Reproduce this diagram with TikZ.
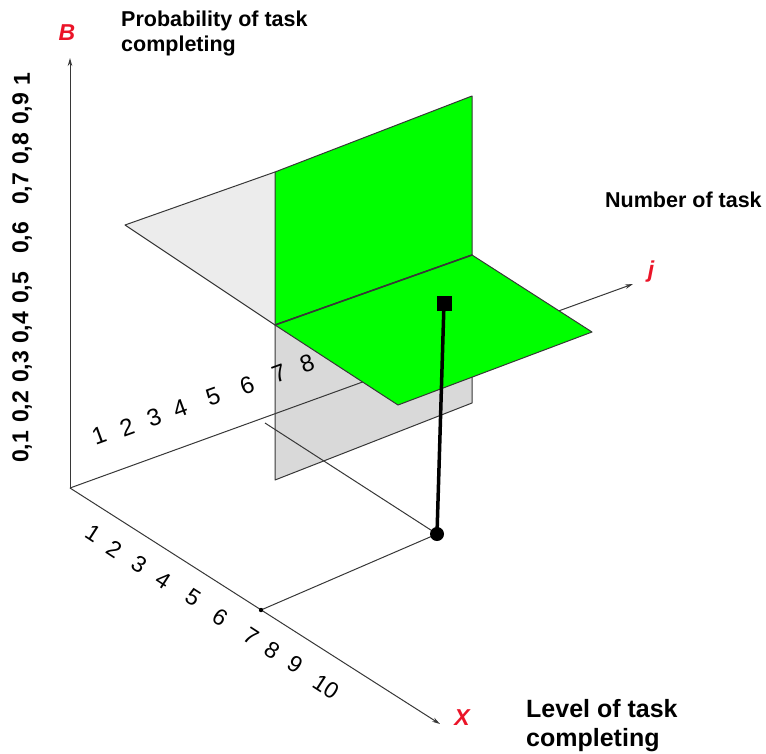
\documentclass[tikz,border=0pt]{standalone}
\usepackage{fontspec}
\setmainfont{Liberation Sans}
\usepackage{xcolor}
\definecolor{plgreen}{RGB}{0,255,0}
\definecolor{pllight}{RGB}{236,236,236}
\definecolor{plgray}{RGB}{217,217,217}
\definecolor{axred}{RGB}{235,20,40}
\definecolor{lngray}{RGB}{55,55,55}
\usetikzlibrary{arrows.meta, positioning}

\tikzset{
  axisline/.style={draw=lngray, line width=1pt, -{Stealth[length=8pt,width=4.5pt]}},
  guide/.style={draw=lngray, line width=1pt},
  plane/.style={draw=lngray, line width=1pt, line join=round},
  axname/.style={font=\fontsize{23}{26}\selectfont\bfseries\itshape, text=axred, inner sep=0pt},
  axtitle/.style={font=\fontsize{21.5}{25}\selectfont\bfseries, align=left, anchor=west, inner sep=0pt},
  jnum/.style={font=\fontsize{24}{26}\selectfont, rotate=20, inner sep=0pt},
  xnum/.style={font=\fontsize{23}{25}\selectfont, rotate=-33, inner sep=0pt},
  pval/.style={font=\fontsize{23}{26}\selectfont\bfseries, rotate=90, inner sep=0pt}
}

\begin{document}
\begin{tikzpicture}[x=1pt,y=-1pt]
  \useasboundingbox (0,0) rectangle (766,753);
  % axes
  \coordinate (O) at (70,488);
  \coordinate (Btip) at (70,58);
  \coordinate (jtip) at (633,284);
  \coordinate (Xtip) at (440,724);
  % corners of the planes
  \coordinate (gl) at (125,225);
  \coordinate (vtl) at (275,172);
  \coordinate (vtr) at (472,96);
  \coordinate (vml) at (275,325);
  \coordinate (vmr) at (472,255);
  \coordinate (vbl) at (275,480);
  \coordinate (vbr) at (472,403);
  \coordinate (hfr) at (592,332);
  \coordinate (hfl) at (398,405);
  % point and its projections
  \coordinate (pdot) at (437,534);
  \coordinate (psq) at (444,303);
  \coordinate (x7) at (261,610);
  \coordinate (jfoot) at (265,423);

  % light gray plane
  \fill[pllight] (gl) -- (vtl) -- (vml) -- cycle;
  \draw[plane] (vtl) -- (gl) -- (vml);
  % gray plane below
  \filldraw[plane, fill=plgray] (vml) -- (vmr) -- (vbr) -- (vbl) -- cycle;

  \draw[axisline] (O) -- (Btip);
  \draw[axisline] (O) -- (jtip);
  \draw[axisline] (O) -- (Xtip);
  \draw[guide] (jfoot) -- (pdot);
  \draw[guide] (x7) -- (pdot);
  \fill[black] (x7) circle (2.2);

  % green planes
  \filldraw[plane, fill=plgreen] (vtl) -- (vtr) -- (vmr) -- (vml) -- cycle;
  \filldraw[plane, fill=plgreen] (vml) -- (vmr) -- (hfr) -- (hfl) -- cycle;
  \draw[line width=1.6pt, lngray] (vml) -- (vmr);

  % the point
  \node[circle, fill=black, minimum size=14pt, inner sep=0pt] (dot) at (pdot) {};
  \node[rectangle, fill=black, minimum size=15pt, inner sep=0pt] (sq) at (psq) {};
  \draw[line width=3.5pt] (dot.center) -- (sq.center);

  % axis names
  \node[axname] (nB) at (67,33) {B};
  \node[axname] (nj) at (651,272) {j};
  \node[axname] (nX) at (462,718) {X};
  \node[axtitle, anchor=north west] (tB) at (121,11) {Probability of task\\completing};
  \node[axtitle] (tj) at (605,200) {Number of task};
  \node[axtitle, font=\fontsize{25}{29}\selectfont\bfseries, anchor=north west] (tX) at (526,699) {Level of task\\completing};

  % scale values
  \foreach \v/\py [count=\i] in {{0,1}/447, {0,2}/407, {0,3}/367, {0,4}/328, {0,5}/288,
      {0,6}/238, {0,7}/189, {0,8}/149, {0,9}/109, 1/79}
    \node[pval] (b\i) at (22,\py) {\v};
  \foreach \n/\px/\py in {1/99/435, 2/127/427, 3/154/417, 4/180/408,
      5/213/397, 6/247/385, 7/279/373, 8/307/363}
    \node[jnum] (j\n) at (\px,\py) {\n};
  \foreach \n/\px/\py in {1/93/533, 2/114/549, 3/139/564, 4/163/580, 5/193/597,
      6/220/617, 7/251/636, 8/272/650, 9/295/664, 10/326/687}
    \node[xnum] (x\n) at (\px,\py) {\n};
\end{tikzpicture}
\end{document}
